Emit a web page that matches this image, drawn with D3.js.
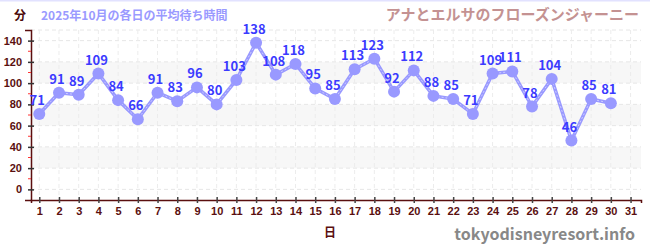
<!DOCTYPE html>
<html>
<head>
<meta charset="utf-8">
<script src="https://cdn.jsdelivr.net/npm/d3@7"></script>
<style>
  body { margin: 0; background: #fff; }
  svg { display: block; font-family: "Noto Sans CJK JP", "Noto Sans", sans-serif; }
</style>
</head>
<body>
<svg id="chart" width="650" height="250"></svg>
<script>
// DATA
const days = d3.range(1, 31);
const waits = [71, 91, 89, 109, 84, 66, 91, 83, 96, 80, 103, 138, 108, 118, 95,
  85, 113, 123, 92, 112, 88, 85, 71, 109, 111, 78, 104, 46, 85, 81];
const xTicks = d3.range(1, 32);
const yTicks = [0, 20, 40, 60, 80, 100, 120, 140];
const yMinorTicks = [10, 30, 50, 70, 90, 110, 130];
const bands = [[20, 40], [60, 80], [100, 120]];

// CANVAS SETUP
const svg = d3.select("#chart");
const margin = { top: 30, right: 9, bottom: 50, left: 31 },
  width = 650 - margin.left - margin.right,
  height = 250 - margin.top - margin.bottom;

const x = d3.scaleLinear().domain([0.58, 31.53]).range([0, width]);
const y = d3.scaleLinear().domain([-10, 150]).range([height, 0]);

svg.append("rect").attr("width", 650).attr("height", 1.5).attr("fill", "#e2e2ff");

const g = svg.append("g").attr("transform", `translate(${margin.left},${margin.top})`);

// background bands
g.selectAll("rect.band")
  .data(bands)
  .join("rect")
  .attr("class", "band")
  .attr("x", 0)
  .attr("width", width)
  .attr("y", (d) => y(d[1]))
  .attr("height", (d) => y(d[0]) - y(d[1]))
  .attr("fill", "#f7f7f7");

// grid
g.selectAll("line.hgrid")
  .data(yTicks.concat([150]))
  .join("line")
  .attr("x1", 0).attr("x2", width)
  .attr("y1", (d) => y(d)).attr("y2", (d) => y(d))
  .attr("stroke", "#e6e6e6")
  .attr("stroke-dasharray", "4,3");

g.selectAll("line.vgrid")
  .data(xTicks)
  .join("line")
  .attr("x1", (d) => x(d)).attr("x2", (d) => x(d))
  .attr("y1", 0).attr("y2", height)
  .attr("stroke", "#ececec")
  .attr("stroke-dasharray", "4,3");

// axes
const axisColor = "#5a0f0f";
const gy = g.append("g")
  .call(d3.axisLeft(y).tickValues(yTicks).tickSize(6).tickPadding(3));
gy.select(".domain").attr("stroke", axisColor).attr("stroke-width", 1.5);
gy.selectAll(".tick line").attr("x1", 3).attr("x2", -3).attr("stroke", "#333").attr("stroke-width", 1.5);
gy.selectAll(".tick text")
  .attr("fill", axisColor).attr("font-size", 11).attr("font-weight", "bold");

g.selectAll("line.minor")
  .data(yMinorTicks)
  .join("line")
  .attr("x1", -3).attr("x2", 0)
  .attr("y1", (d) => y(d)).attr("y2", (d) => y(d))
  .attr("stroke", "#ff3333").attr("stroke-width", 1);

const gx = g.append("g")
  .attr("transform", `translate(0,${height})`)
  .call(d3.axisBottom(x).tickValues(xTicks).tickFormat(d3.format("d")).tickSize(3).tickPadding(4));
gx.select(".domain").attr("stroke", axisColor).attr("stroke-width", 1.5);
gx.selectAll(".tick line").attr("y1", -3).attr("y2", 3).attr("stroke", "#444").attr("stroke-width", 1.5);
gx.selectAll(".tick text")
  .attr("fill", axisColor).attr("font-size", 11).attr("font-weight", "bold");

// line
const line = d3.line().x((d, i) => x(days[i])).y((d) => y(d));
g.append("path")
  .datum(waits)
  .attr("d", line)
  .attr("fill", "none")
  .attr("stroke", "#9999ff")
  .attr("stroke-width", 3.5)
  .attr("stroke-linejoin", "round");
g.append("path")
  .datum(waits)
  .attr("d", line)
  .attr("fill", "none")
  .attr("stroke", "#ffffff")
  .attr("stroke-opacity", 0.5)
  .attr("stroke-width", 1)
  .attr("stroke-dasharray", "2,2");

g.selectAll("circle.pt")
  .data(waits)
  .join("circle")
  .attr("class", "pt")
  .attr("cx", (d, i) => x(days[i]))
  .attr("cy", (d) => y(d))
  .attr("r", 6)
  .attr("fill", "#9999ff");

g.selectAll("text.lbl")
  .data(waits)
  .join("text")
  .attr("class", "lbl")
  .attr("x", (d, i) => x(days[i]) - 2)
  .attr("y", (d) => y(d) - 9)
  .attr("text-anchor", "middle")
  .attr("font-size", 13)
  .attr("font-weight", "bold")
  .attr("fill", "#3b3bff")
  .text((d) => d);

// titles
svg.append("text").attr("x", 14).attr("y", 20)
  .attr("font-size", 12).attr("font-weight", "bold").attr("fill", "#4a0a0a").text("分");
svg.append("text").attr("x", 41).attr("y", 20)
  .attr("font-size", 12).attr("font-weight", "bold").attr("fill", "#9a9aff")
  .text("2025年10月の各日の平均待ち時間");
svg.append("text").attr("x", 639).attr("y", 20).attr("text-anchor", "end")
  .attr("font-size", 15).attr("font-weight", "bold").attr("fill", "#c49292")
  .text("アナとエルサのフローズンジャーニー");
svg.append("text").attr("x", 330).attr("y", 237).attr("text-anchor", "middle")
  .attr("font-size", 12).attr("font-weight", "bold").attr("fill", axisColor).text("日");
svg.append("text").attr("x", 635).attr("y", 240).attr("text-anchor", "end")
  .attr("font-size", 16).attr("font-weight", "bold").attr("fill", "#888")
  .text("tokyodisneyresort.info");
</script>
</body>
</html>
